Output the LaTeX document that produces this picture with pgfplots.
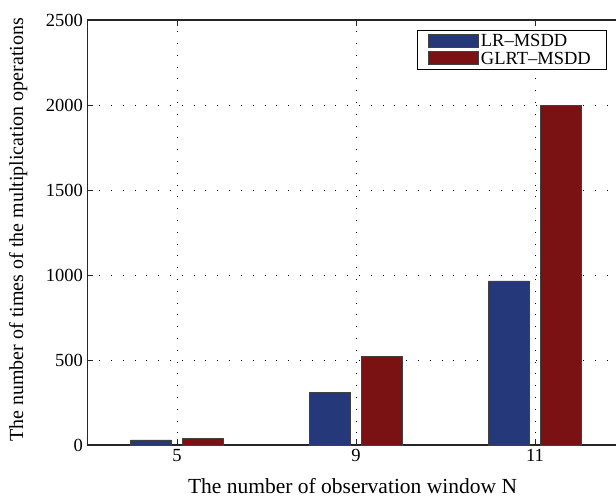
\documentclass[border=0pt]{standalone}
\usepackage{fontspec}
\setmainfont{Liberation Serif}
\usepackage{pgfplots}
\pgfplotsset{compat=1.18}
\definecolor{lrblue}{RGB}{36,56,122}
\definecolor{glred}{RGB}{122,18,20}
\newcommand{\tickf}{\fontsize{18.5}{21}\selectfont}
\newcommand{\xlabf}{\fontsize{21.5}{24}\selectfont}
\newcommand{\ylabf}{\fontsize{20}{24}\selectfont}
\newcommand{\legf}{\fontsize{18.5}{20}\selectfont}
\begin{document}
\begin{tikzpicture}[x=1pt,y=1pt]
\useasboundingbox (-87.5,-53) rectangle (528.5,445);
\clip (-87.5,-53) rectangle (528.5,445);
\begin{axis}[
  at={(0pt,0pt)}, anchor=south west,
  scale only axis, width=537pt, height=425pt,
  xmin=0.5, xmax=3.5, ymin=0, ymax=2500,
  ybar=11pt, bar width=41pt,
  xtick={1,2,3}, xticklabels={5,9,11},
  ytick={0,500,1000,1500,2000,2500},
  tick align=inside, major tick length=6pt,
  xtick pos=both, ytick pos=both,
  grid=major,
  major grid style={black, line width=0.7pt, dash pattern=on 0.8pt off 11pt},
  axis line style={line width=1.1pt, black!85},
  tick style={line width=0.8pt, black!85},
  /pgf/number format/assume math mode=true,
  /pgf/number format/1000 sep={},
  tick label style={font=\tickf},
  xticklabel style={yshift=-1pt},
  yticklabel style={xshift=-1pt},
  xlabel={The number of observation window N},
  ylabel={The number of times of the multiplication operations},
  xlabel style={font=\xlabf, at={(axis description cs:0.4935,-0.097)}, anchor=center},
  ylabel style={font=\ylabf, at={(axis description cs:-0.129,0.506)}, anchor=center},
  legend style={at={(0.6136,0.976)}, anchor=north west, font=\legf,
     draw=black, line width=0.8pt, inner sep=1.5pt, row sep=0pt, cells={anchor=west}},
  legend image code/.code={\path[draw=none,fill=none] (0pt,0pt) -- (60pt,0pt); \draw[#1, line width=0.6pt] (9pt,-6pt) rectangle (59pt,7pt);},
]
\addplot[fill=lrblue, draw=black!75, line width=0.8pt] coordinates {(1,30) (2,308) (3,965)};
\addplot[fill=glred, draw=black!75, line width=0.8pt] coordinates {(1,38) (2,520) (3,1995)};
\legend{LR--MSDD, GLRT--MSDD\hspace*{12pt}}
\end{axis}
\end{tikzpicture}
\end{document}
